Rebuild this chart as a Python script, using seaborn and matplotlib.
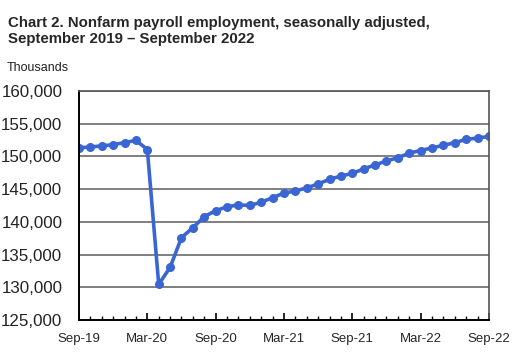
import numpy as np
import pandas as pd
import matplotlib
matplotlib.use('Agg')
import matplotlib.pyplot as plt
import seaborn as sns
from matplotlib.ticker import FuncFormatter, MultipleLocator

# monthly nonfarm payroll, thousands, Sep 2019 - Sep 2022
months = pd.date_range('2019-09-01', '2022-09-01', freq='MS')
employment = [151300, 151450, 151600, 151800, 152100, 152450, 151050,
              130450, 133050, 137600, 139100, 140800, 141700, 142300,
              142600, 142500, 143000, 143700, 144400, 144700, 145200,
              145800, 146500, 147000, 147400, 148100, 148700, 149300,
              149800, 150500, 150900, 151300, 151700, 152100, 152600,
              152800, 153050]
tick_labels = ['Sep-19', 'Mar-20', 'Sep-20', 'Mar-21', 'Sep-21', 'Mar-22', 'Sep-22']

df = pd.DataFrame({'idx': np.arange(len(months)), 'employment': employment})

sns.set_style('white')
plt.rcParams['font.family'] = ['Liberation Sans', 'DejaVu Sans']

fig = plt.figure(figsize=(5.18, 3.58), dpi=100)
ax = fig.add_axes([0.1525, 0.106, 0.7915, 0.64])

sns.lineplot(data=df, x='idx', y='employment', ax=ax, color='#3a66d4',
             linewidth=2.6, marker='o', markersize=6.5, markeredgewidth=0)

ax.set_xlim(0, 36)
ax.set_ylim(125000, 160000)
ax.set_yticks(np.arange(125000, 160001, 5000))
ax.yaxis.set_major_formatter(FuncFormatter(lambda v, p: f'{int(v):,}'))
ax.set_xticks(np.arange(0, 37, 6))
ax.set_xticklabels(tick_labels)
ax.xaxis.set_minor_locator(MultipleLocator(1))
ax.set_xlabel('')
ax.set_ylabel('')

ax.grid(axis='y', color='#7f7f7f', linewidth=1.4)
ax.set_axisbelow(True)
ax.tick_params(axis='y', length=0, labelsize=12.2, pad=12, labelcolor='#222222')
ax.tick_params(axis='x', which='both', bottom=True, top=False)
ax.tick_params(axis='x', which='major', direction='in', length=5, width=1.2,
               labelsize=9.5, pad=9, color='black')
ax.tick_params(axis='x', which='minor', direction='in', length=3, width=1, color='black')
for side in ['left', 'bottom']:
    ax.spines[side].set_color('black')
    ax.spines[side].set_linewidth(1.4)
for side in ['top', 'right']:
    ax.spines[side].set_visible(True)
    ax.spines[side].set_color('#555555')
    ax.spines[side].set_linewidth(1.2)

fig.text(0.015, 0.955, 'Chart 2. Nonfarm payroll employment, seasonally adjusted,\nSeptember 2019 \u2013 September 2022',
         fontsize=10.8, fontweight='bold', va='top', ha='left', linespacing=1.2)
fig.text(0.013, 0.81, 'Thousands', fontsize=9, va='center', ha='left', color='#222222')

fig.savefig('out.png', dpi=100)
